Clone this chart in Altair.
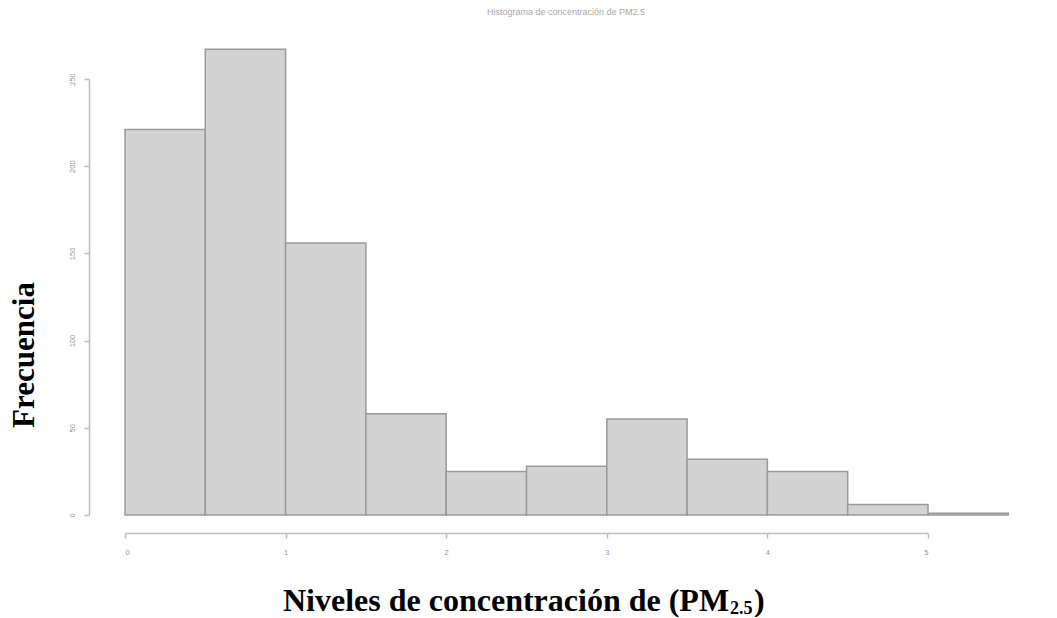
import altair as alt
import pandas as pd

# ---- data ----
bin_start = [0.0, 0.5, 1.0, 1.5, 2.0, 2.5, 3.0, 3.5, 4.0, 4.5, 5.0]
bin_end = [0.5, 1.0, 1.5, 2.0, 2.5, 3.0, 3.5, 4.0, 4.5, 5.0, 5.5]
counts = [221, 267, 156, 58, 25, 28, 55, 32, 25, 6, 1]
x_ticks = [0, 1, 2, 3, 4, 5]
y_ticks = [0, 50, 100, 150, 200, 250]

top_title = ["Histograma de concentración de PM2.5"]
x_title_main = ["Niveles de concentración de (PM"]
x_title_sub = ["2.5"]
x_title_end = [")"]
y_title = ["Frecuencia"]

W, H = 803, 436

df = pd.DataFrame({"start": bin_start, "end": bin_end, "count": counts})

x_scale = alt.Scale(domain=[0, 5], nice=False, zero=False)
y_scale = alt.Scale(domain=[0, 250], nice=False)

axis_style = dict(
    domainColor="#bdbdbd", domainWidth=1.5,
    tickColor="#bdbdbd", tickWidth=1.5, tickSize=5,
    labelColor="#959595", labelFontSize=7.5, labelFont="Liberation Sans",
    grid=False, title=None,
)

bars = alt.Chart(df).mark_rect(
    fill="#d3d3d3", stroke="#9a9a9a", strokeWidth=1.5
).encode(
    x=alt.X("start:Q", scale=x_scale,
            axis=alt.Axis(values=x_ticks, offset=18, labelPadding=10, format="d", **axis_style)),
    x2="end:Q",
    y=alt.Y("count:Q", scale=y_scale,
            axis=alt.Axis(values=y_ticks, offset=36, labelAngle=270, labelAlign="center",
                          labelBaseline="bottom", labelPadding=8, format="d", **axis_style)),
    y2=alt.datum(0),
)

serif = "Liberation Serif"

t_top = alt.Chart(pd.DataFrame({"t": top_title})).mark_text(
    font="Liberation Sans", fontSize=9, color="#aaaaaa", align="center", baseline="middle"
).encode(text="t:N", x=alt.value(441), y=alt.value(-67))

t_x_main = alt.Chart(pd.DataFrame({"t": x_title_main})).mark_text(
    font=serif, fontSize=32, fontWeight="bold", color="black", align="left", baseline="alphabetic"
).encode(text="t:N", x=alt.value(158), y=alt.value(532))

t_x_sub = alt.Chart(pd.DataFrame({"t": x_title_sub})).mark_text(
    font=serif, fontSize=18, fontWeight="bold", color="black", align="left", baseline="alphabetic"
).encode(text="t:N", x=alt.value(605), y=alt.value(535))

t_x_end = alt.Chart(pd.DataFrame({"t": x_title_end})).mark_text(
    font=serif, fontSize=32, fontWeight="bold", color="black", align="left", baseline="alphabetic"
).encode(text="t:N", x=alt.value(629), y=alt.value(532))

t_y = alt.Chart(pd.DataFrame({"t": y_title})).mark_text(
    font=serif, fontSize=31, fontWeight="bold", color="black", align="center",
    baseline="alphabetic", angle=270
).encode(text="t:N", x=alt.value(-91), y=alt.value(276))

chart = alt.layer(bars, t_top, t_x_main, t_x_sub, t_x_end, t_y).properties(
    width=W, height=H,
    autosize=alt.AutoSizeParams(type="none"),
    padding={"left": 117, "top": 71, "right": 120, "bottom": 102},
).configure(background="white").configure_view(stroke=None)

chart.save("out.html", embed_options={"renderer": "svg", "actions": False})
